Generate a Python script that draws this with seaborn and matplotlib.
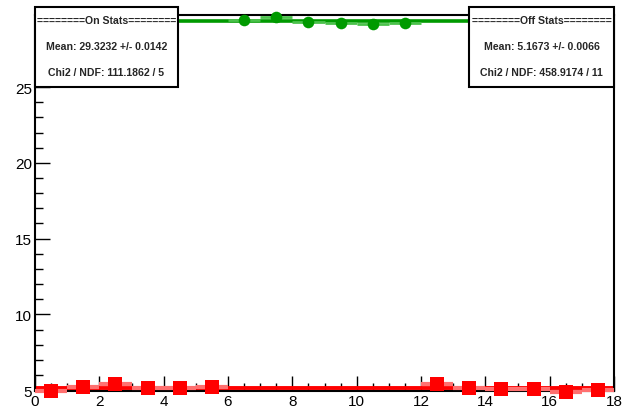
import numpy as np
import pandas as pd
import matplotlib
matplotlib.use("Agg")
import matplotlib.pyplot as plt
import seaborn as sns
from matplotlib.patches import Rectangle
from matplotlib.ticker import MultipleLocator

# ------------------ Data ------------------
on_bins = [6.5, 7.5, 8.5, 9.5, 10.5, 11.5]
on_vals = [29.45, 29.60, 29.30, 29.20, 29.18, 29.20]
on_mean = 29.3232

off_bins = [0.5, 1.5, 2.5, 3.5, 4.5, 5.5, 12.5, 13.5, 14.5, 15.5, 16.5, 17.5]
off_vals = [4.95, 5.24, 5.40, 5.18, 5.18, 5.24, 5.40, 5.18, 5.11, 5.07, 4.91, 5.02]
off_mean = 5.1673

on_text = ["========On Stats========", "Mean: 29.3232 +/- 0.0142", "Chi2 / NDF: 111.1862 / 5"]
off_text = ["========Off Stats========", "Mean: 5.1673 +/- 0.0066", "Chi2 / NDF: 458.9174 / 11"]

df_on = pd.DataFrame({"bin": on_bins, "rate": on_vals})
df_off = pd.DataFrame({"bin": off_bins, "rate": off_vals})

green = "#009a00"
red = "#ff0000"

# ------------------ Figure ------------------
sns.set_style("white")
plt.rcParams["font.family"] = ["Liberation Sans", "DejaVu Sans"]

fig = plt.figure(figsize=(6.22, 4.10), dpi=100)
ax = fig.add_axes([35 / 622, 1 - 392 / 410, 579 / 622, 376 / 410])

# fit lines
ax.axhline(on_mean, color=green, lw=2.6, zorder=2)
ax.axhline(off_mean, color=red, lw=2.8, zorder=2)

# bin-width error bars
ax.errorbar(df_on["bin"], df_on["rate"], xerr=0.5, fmt="none",
            ecolor="#4cc24c", elinewidth=2.0, capsize=0, zorder=3, clip_on=False)
ax.errorbar(df_off["bin"], df_off["rate"], xerr=0.5, fmt="none",
            ecolor="#ff7070", elinewidth=3.0, capsize=0, zorder=3, clip_on=False)

# points
sns.scatterplot(data=df_on, x="bin", y="rate", ax=ax, color=green,
                marker="o", s=70, edgecolor=green, linewidth=0, zorder=4,
                clip_on=False)
sns.scatterplot(data=df_off, x="bin", y="rate", ax=ax, color=red,
                marker="s", s=95, edgecolor=red, linewidth=0, zorder=4,
                clip_on=False)

ax.set_xlim(0, 18)
ax.set_ylim(4.95, 29.75)
ax.set_xlabel("")
ax.set_ylabel("")

ax.xaxis.set_major_locator(MultipleLocator(2))
ax.xaxis.set_minor_locator(MultipleLocator(0.5))
ax.yaxis.set_major_locator(MultipleLocator(5))
ax.yaxis.set_minor_locator(MultipleLocator(1))
ax.tick_params(which="both", direction="in", colors="black", labelsize=11,
               bottom=True, left=True, top=False, right=False, width=1)
ax.tick_params(which="major", length=11, pad=2)
ax.tick_params(which="minor", length=5.5)
for sp in ax.spines.values():
    sp.set_color("black")
    sp.set_linewidth(1.5)

# ------------------ Stats boxes ------------------
def stats_box(x0, x1, lines):
    y0, y1 = 8, 88
    rect = Rectangle((x0 / 622, 1 - y1 / 410), (x1 - x0) / 622, (y1 - y0) / 410,
                     transform=fig.transFigure, facecolor="white",
                     edgecolor="black", lw=1.5, zorder=10)
    fig.patches.append(rect)
    xc = (x0 + x1) / 2 / 622
    for py, s in zip([21, 47, 73], lines):
        fig.text(xc, 1 - py / 410, s, ha="center", va="center",
                 fontsize=7.6, fontweight="bold", zorder=11)

stats_box(35, 178, on_text)
stats_box(469, 614, off_text)

fig.savefig("out.png", dpi=100)
